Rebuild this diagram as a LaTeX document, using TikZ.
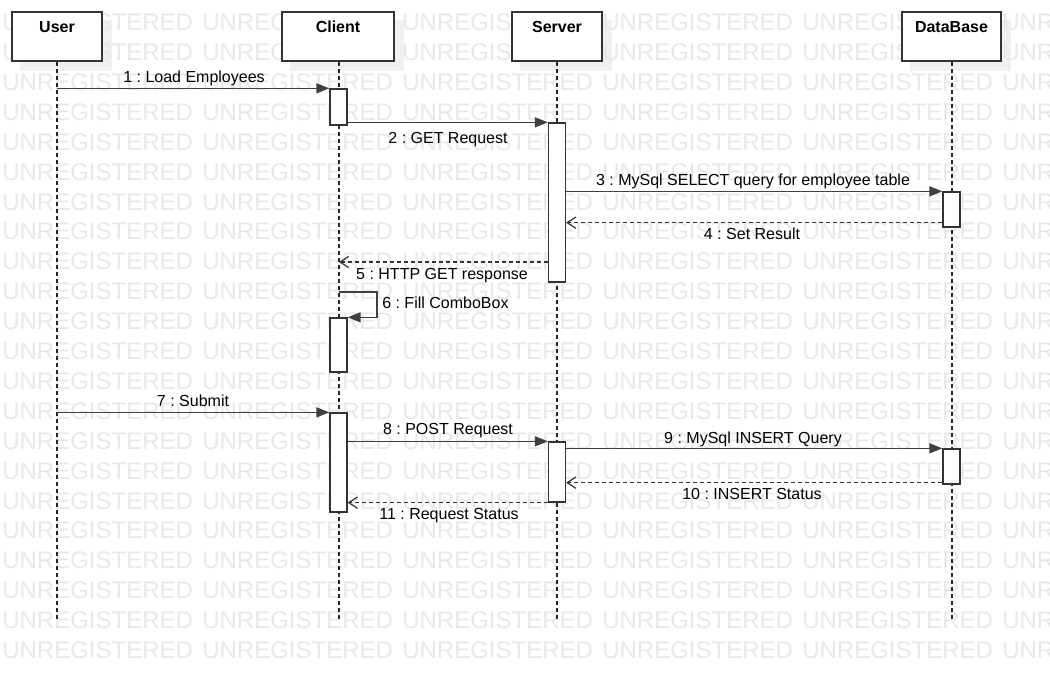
\documentclass[tikz,border=0pt]{standalone}
\usepackage{fontspec}
\setmainfont{Liberation Sans}
\frenchspacing
\usetikzlibrary{arrows.meta,calc}
\pgfdeclarelayer{shade}
\pgfdeclarelayer{stamp}
\pgfsetlayers{shade,stamp,main}
\begin{document}
\begin{tikzpicture}[x=0.75pt,y=-0.75pt,
  lifebox/.style={draw=black!80, fill=white, line width=1pt, minimum width=#1,
    minimum height=36.75pt, inner sep=0pt},
  title/.style={font=\bfseries\fontsize{12}{14}\selectfont, inner sep=0pt},
  act/.style={draw=black!80, fill=white, line width=1pt, minimum width=12.75pt,
    minimum height=#1, inner sep=0pt},
  lifeline/.style={draw=black!85, line width=0.9pt, dash pattern=on 3pt off 2.25pt},
  msg/.style={draw=black!75, line width=1.1pt, -{Triangle[length=9.75pt,width=7.5pt]}},
  ret/.style={draw=black!80, line width=0.9pt, dash pattern=on 3pt off 2.25pt,
    -{Straight Barb[length=6.5pt,width=8.5pt,line width=0.9pt]}},
  lbl/.style={font=\fontsize{12}{14}\selectfont, inner sep=0pt, anchor=base},
  wm/.style={font=\fontsize{18}{18}\selectfont, text=black!9, inner sep=0pt, anchor=base west},
  shadow/.style={fill=black!6}
]
\useasboundingbox (0,0) rectangle (1050,672);

% lifeline heads
\node[lifebox=67.5pt]  (user)   at (57,36.5)    {};
\node[lifebox=84pt]    (client) at (338,36.5)   {};
\node[lifebox=67.5pt]  (server) at (557,36.5)   {};
\node[lifebox=74.25pt] (db)     at (951.5,36.5) {};
\node[title] (tuser)   at (57,27)    {User};
\node[title] (tclient) at (338,27)   {Client};
\node[title] (tserver) at (557,27)   {Server};
\node[title] (tdb)     at (951.5,27) {DataBase};

% page, drop shadows and background stamp text
\begin{pgfonlayer}{shade}
  \fill[white] (0,0) rectangle (1050,672);
  \foreach \b in {user,client,server,db}
    \fill[shadow] ($(\b.north west)+(9,9)$) rectangle ($(\b.south east)+(9,9)$);
\end{pgfonlayer}
\begin{pgfonlayer}{stamp}
  \foreach \r in {0,...,21}
    \foreach \c in {0,...,5}
      \node[wm] at (2+200*\c, 30.6+29.9*\r) {UNREGISTERED};
\end{pgfonlayer}

% lifelines
\coordinate (uend) at (57,620);
\coordinate (cend) at (339,620);
\coordinate (send) at (557,620);
\coordinate (dend) at (952,620);
\draw[lifeline] (user.south) -- (uend);
\draw[lifeline] (client.south -| cend) -- (cend);
\draw[lifeline] (server.south) -- (send);
\draw[lifeline] (db.south -| dend) -- (dend);

% activations
\node[act=27pt]     (c1) at (338.5,107)   {};
\node[act=119.25pt] (s1) at (557,202.5)   {};
\node[act=26.25pt]  (d1) at (951.5,209.5) {};
\node[act=40.5pt]   (c2) at (338.5,345)   {};
\node[act=74.25pt]  (c3) at (338.5,462.5) {};
\node[act=45pt]     (s2) at (557,472)     {};
\node[act=26.25pt]  (d2) at (951.5,466.5) {};

% messages (labels placed on their baselines)
\draw[msg] (uend |- c1.north) -- (c1.north west);
\node[lbl] (l1) at (194,82) {1 : Load Employees};

\draw[msg] (c1.east |- s1.north) -- (s1.north west);
\node[lbl] (l2) at (448,143) {2 : GET Request};

\draw[msg] (s1.east |- d1.north) -- (d1.north west);
\node[lbl] (l3) at (753,185) {3 : MySql SELECT query for employee table};

\coordinate (r4) at ($(d1.south west)+(0,-5)$);
\draw[ret] (r4) -- (s1.east |- r4);
\node[lbl] (l4) at (752,239) {4 : Set Result};

\coordinate (r5) at (549,262);
\draw[ret] (s1.west |- r5) -- (cend |- r5);
\node[lbl] (l5) at (442,279) {5 : HTTP GET response};

\coordinate (m6) at (377,292);
\draw[msg] (cend |- m6) -- (m6) |- (c2.north east);
\node[lbl, anchor=base west] (l6) at (382,308) {6 : Fill ComboBox};

\draw[msg] (uend |- c3.north) -- (c3.north west);
\node[lbl] (l7) at (193,406) {7 : Submit};

\draw[msg] (c3.east |- s2.north) -- (s2.north west);
\node[lbl] (l8) at (448,434) {8 : POST Request};

\draw[msg] (s2.east |- d2.north) -- (d2.north west);
\node[lbl] (l9) at (753,443) {9 : MySql INSERT Query};

\coordinate (r10) at ($(d2.south west)+(0,-2)$);
\draw[ret] (r10) -- (s2.east |- r10);
\node[lbl] (l10) at (752,499) {10 : INSERT Status};

\draw[ret] (s2.south west) -- (c3.east |- s2.south);
\node[lbl] (l11) at (449,519) {11 : Request Status};
\end{tikzpicture}
\end{document}
